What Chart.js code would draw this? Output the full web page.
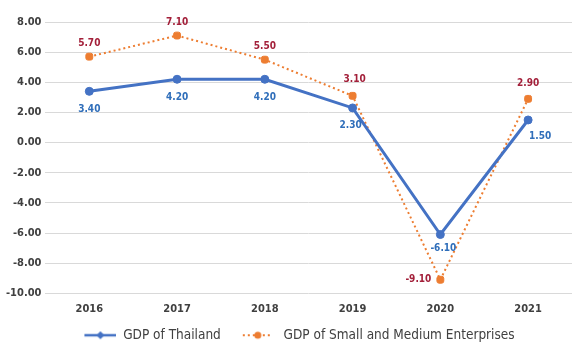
<!DOCTYPE html>
<html>
<head>
<meta charset="utf-8">
<script src="https://cdn.jsdelivr.net/npm/chart.js@4/dist/chart.umd.min.js"></script>
<style>
html,body{margin:0;padding:0;background:#fff;}
#wrap{width:577px;height:352px;position:relative;}
</style>
</head>
<body>
<div id="wrap"><canvas id="c" width="577" height="352"></canvas></div>
<script>
const categories = ['2016','2017','2018','2019','2020','2021'];
const gdpThailand = [3.40, 4.20, 4.20, 2.30, -6.10, 1.50];
const gdpSME = [5.70, 7.10, 5.50, 3.10, -9.10, 2.90];
const seriesNames = ['GDP of Thailand', 'GDP of Small and Medium Enterprises'];

const FONT = "'Liberation Sans Narrow','DejaVu Sans Condensed','Roboto Condensed',sans-serif";
const BLUE = '#4472C4', ORANGE = '#ED7D31';

// label placement per dataset/point: [dx, dy]
const placement = [
  [[0,18],[0,18],[0,18],[-2,17],[3,14],[12,16]],
  [[0,-13],[0,-13],[0,-13],[2,-16],[-22,0],[0,-15]]
];
const labelColors = ['#2F6EBA', '#A3203A'];

// legend icon canvas: transparent, line drawn between x0 and x1
function legendIcon(color, dashed, x0, x1) {
  const c = document.createElement('canvas');
  c.width = 52; c.height = 10;
  const g = c.getContext('2d');
  g.strokeStyle = color;
  g.lineWidth = dashed ? 2 : 2.5;
  if (dashed) g.setLineDash([2, 3]);
  g.beginPath(); g.moveTo(x0, 5); g.lineTo(x1, 5); g.stroke();
  g.setLineDash([]);
  g.fillStyle = color;
  const m = (x0 + x1) / 2;
  g.beginPath();
  if (dashed) { g.arc(m, 5, 3.5, 0, Math.PI * 2); }
  else { g.moveTo(m, 1); g.lineTo(m + 4, 5); g.lineTo(m, 9); g.lineTo(m - 4, 5); g.closePath(); }
  g.fill();
  return c;
}

const labelPlugin = {
  id: 'valLabels',
  afterDatasetsDraw(chart) {
    const ctx = chart.ctx;
    ctx.save();
    ctx.font = "bold 10px " + FONT;
    ctx.textBaseline = 'middle';
    ctx.textAlign = 'center';
    chart.data.datasets.forEach((ds, di) => {
      const meta = chart.getDatasetMeta(di);
      meta.data.forEach((pt, i) => {
        const p = placement[di][i];
        ctx.fillStyle = labelColors[di];
        ctx.fillText(ds.data[i].toFixed(2), pt.x + p[0], pt.y + p[1]);
      });
    });
    ctx.restore();
  }
};

const icons = [legendIcon(BLUE, false, 20, 52), legendIcon(ORANGE, true, 18, 48)];

new Chart(document.getElementById('c'), {
  type: 'line',
  data: {
    labels: categories,
    datasets: [
      {
        label: seriesNames[0],
        data: gdpThailand,
        borderColor: BLUE,
        backgroundColor: BLUE,
        borderWidth: 3,
        pointStyle: 'circle',
        pointRadius: 4,
        pointBorderWidth: 1,
        tension: 0
      },
      {
        label: seriesNames[1],
        data: gdpSME,
        borderColor: ORANGE,
        backgroundColor: ORANGE,
        borderWidth: 2,
        borderDash: [2, 3],
        pointStyle: 'rectRounded',
        pointRadius: 4,
        pointBorderWidth: 1,
        tension: 0
      }
    ]
  },
  options: {
    responsive: false,
    animation: false,
    layout: { padding: { left: 2, right: 0, top: 22, bottom: 0 } },
    plugins: {
      legend: {
        position: 'bottom',
        labels: {
          font: { family: FONT, size: 13.5 },
          color: '#404040',
          usePointStyle: true,
          pointStyleWidth: 52,
          boxHeight: 10,
          padding: 4,
          generateLabels(chart) {
            return chart.data.datasets.map((ds, i) => ({
              text: ds.label,
              pointStyle: icons[i],
              fillStyle: ds.borderColor,
              strokeStyle: ds.borderColor,
              lineWidth: 0,
              fontColor: '#404040',
              hidden: false,
              datasetIndex: i
            }));
          }
        }
      },
      tooltip: { enabled: false }
    },
    scales: {
      x: {
        offset: true,
        grid: { display: false, drawTicks: false },
        border: { display: false },
        ticks: { font: { family: FONT, size: 11, weight: 'bold' }, color: '#404040', padding: 9 }
      },
      y: {
        min: -10,
        max: 8,
        ticks: {
          stepSize: 2,
          font: { family: FONT, size: 11, weight: 'bold' },
          color: '#404040',
          padding: 4,
          callback: v => Number(v).toFixed(2)
        },
        grid: { color: '#D9D9D9', lineWidth: 1, drawTicks: false },
        border: { display: false }
      }
    }
  },
  plugins: [labelPlugin]
});
</script>
</body>
</html>
